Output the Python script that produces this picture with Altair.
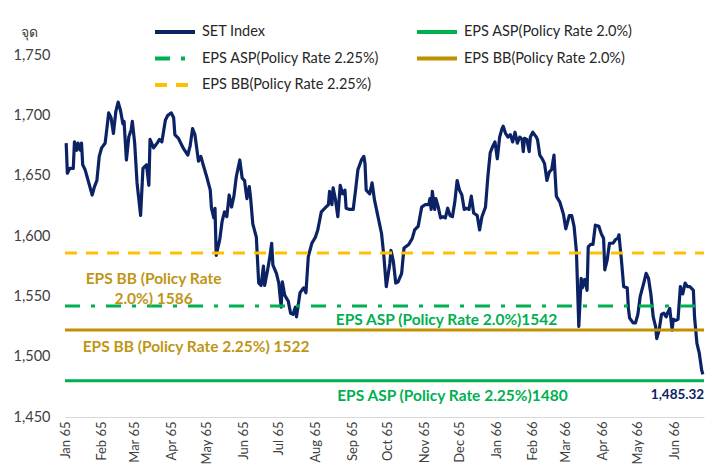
import altair as alt
import pandas as pd

FONT = "Lato"

# ---- data ----
# trading-day positions (days since 1 Jan 2022) and SET Index closes
days = [
    1, 2, 4, 7, 8, 10, 11, 13, 14, 15,
    17, 21, 23, 25, 27, 29, 31, 34, 37, 39,
    41, 43, 45, 47, 49, 50, 52, 54, 56, 57,
    59, 61, 64, 66, 69, 71, 72, 75, 78, 80,
    82, 85, 87, 90, 92, 93, 96, 100, 104, 106,
    108, 110, 113, 115, 117, 120, 123, 124, 126, 127,
    128, 131, 133, 135, 137, 139, 141, 143, 145, 148,
    150, 152, 154, 156, 157, 159, 162, 164, 166, 168,
    169, 171, 173, 175, 176, 179, 181, 183, 184, 186,
    189, 191, 193, 195, 196, 199, 202, 204, 206, 209,
    212, 214, 217, 220, 223, 224, 226, 227, 229, 231,
    233, 235, 237, 238, 241, 244, 246, 248, 251, 253,
    254, 255, 258, 260, 262, 265, 268, 270, 272, 275,
    276, 278, 280, 282, 285, 287, 291, 294, 296, 299,
    302, 305, 308, 309, 310, 311, 313, 314, 316, 318,
    320, 322, 324, 326, 328, 330, 332, 334, 336, 338,
    340, 342, 344, 346, 349, 351, 353, 356, 358, 360,
    362, 364, 366, 368, 370, 371, 373, 375, 377, 379,
    381, 383, 385, 387, 388, 389, 391, 393, 394, 396,
    399, 400, 402, 404, 406, 408, 410, 412, 414, 416,
    419, 422, 424, 427, 429, 431, 433, 435, 437, 438,
    440, 442, 443, 445, 447, 449, 452, 454, 456, 457,
    459, 461, 464, 466, 468, 469, 471, 473, 476, 477,
    478, 481, 483, 485, 487, 490, 492, 494, 496, 498,
    500, 501, 503, 505, 507, 509, 510, 512, 514, 515,
    517, 519, 521, 523, 525, 527, 529, 532, 533, 535,
    537, 539, 540,
]
set_values = [
    1677, 1652, 1656, 1656, 1678, 1671, 1677, 1671, 1677, 1659,
    1655, 1641, 1634, 1641, 1646, 1666, 1673, 1677, 1702, 1698,
    1685, 1703, 1711, 1704, 1693, 1695, 1663, 1682, 1688, 1695,
    1677, 1644, 1617, 1656, 1659, 1642, 1680, 1673, 1677, 1680,
    1678, 1696, 1700, 1702, 1698, 1684, 1681, 1673, 1667, 1675,
    1689, 1684, 1662, 1666, 1659, 1649, 1638, 1623, 1615, 1623,
    1584, 1597, 1612, 1620, 1616, 1634, 1624, 1633, 1649, 1663,
    1648, 1646, 1631, 1641, 1633, 1610, 1599, 1561, 1559, 1575,
    1559, 1569, 1580, 1594, 1576, 1569, 1561, 1541, 1562, 1551,
    1546, 1536, 1535, 1541, 1533, 1553, 1557, 1553, 1583, 1594,
    1599, 1605, 1620, 1623, 1626, 1637, 1626, 1640, 1630, 1616,
    1642, 1635, 1638, 1623, 1622, 1622, 1638, 1655, 1663, 1666,
    1660, 1638, 1635, 1644, 1630, 1616, 1602, 1583, 1558, 1577,
    1588, 1579, 1561, 1562, 1569, 1590, 1593, 1598, 1605, 1608,
    1624, 1626, 1626, 1631, 1622, 1637, 1622, 1631, 1624, 1615,
    1616, 1615, 1623, 1617, 1616, 1628, 1646, 1638, 1634, 1622,
    1623, 1622, 1633, 1619, 1617, 1605, 1616, 1624, 1649, 1669,
    1674, 1678, 1664, 1682, 1689, 1691, 1685, 1682, 1684, 1678,
    1686, 1677, 1682, 1680, 1670, 1681, 1680, 1670, 1682, 1686,
    1682, 1680, 1667, 1664, 1660, 1646, 1653, 1655, 1667, 1633,
    1628, 1618, 1606, 1617, 1617, 1608, 1587, 1525, 1565, 1557,
    1564, 1555, 1591, 1593, 1593, 1609, 1608, 1602, 1598, 1572,
    1580, 1594, 1594, 1597, 1598, 1601, 1581, 1558, 1557, 1540,
    1532, 1528, 1528, 1535, 1550, 1561, 1569, 1565, 1552, 1533,
    1525, 1515, 1522, 1535, 1536, 1533, 1536, 1540, 1522, 1531,
    1530, 1531, 1558, 1552, 1561, 1558, 1558, 1555, 1533, 1511,
    1503, 1489, 1485.32,
]
last_label = "1,485.32"

series_names = [
    "SET Index",
    "EPS ASP(Policy Rate 2.0%)",
    "EPS ASP(Policy Rate 2.25%)",
    "EPS BB(Policy Rate 2.0%)",
    "EPS BB(Policy Rate 2.25%)",
]
ref_series = series_names[1:]
ref_values = [1480, 1542, 1522, 1586]

annot_texts = [
    "EPS ASP (Policy Rate 2.25%)1480",
    "EPS ASP (Policy Rate 2.0%)1542",
    "EPS BB (Policy Rate 2.25%) 1522",
    "EPS BB (Policy Rate\n2.0%) 1586",
]
annot_days = [328, 323, 111, 75]

y_ticks = [1450, 1500, 1550, 1600, 1650, 1700, 1750]
month_ticks = [(2022, m) for m in range(1, 13)] + [(2023, m) for m in range(1, 7)]

# ---- styles ----
colors = ["#0B2265", "#00B050", "#00B050", "#BF9000", "#FFC000"]
dashes = [[1, 0], [1, 0], [15, 11, 4, 11], [1, 0], [12, 9]]
GOLD_TXT = "#C09515"
annot_colors = ["#00B050", "#00B050", GOLD_TXT, GOLD_TXT]
annot_dy = [15, 14, 17, 26]

start = pd.Timestamp("2022-01-01")
end_day = 541

set_df = pd.DataFrame({
    "date": start + pd.to_timedelta(days, unit="D"),
    "value": set_values,
    "series": "SET Index",
})
ref_df = pd.DataFrame({
    "date": [start] * len(ref_values),
    "end": [start + pd.Timedelta(days=end_day)] * len(ref_values),
    "value": ref_values,
    "series": ref_series,
})

legend = alt.Legend(
    title=None, orient="none", legendX=90, legendY=-32, columns=2,
    direction="horizontal",
    symbolType="M-3,0H3", symbolSize=178, symbolStrokeWidth=4,
    symbolOffset=11, labelOffset=18, labelFont=FONT, labelFontSize=14.5,
    labelColor="#262626", labelLimit=400, rowPadding=9.5, columnPadding=28,
    padding=0,
)

x_enc = alt.X(
    "date:T",
    scale=alt.Scale(domain=[alt.DateTime(year=2022, month=1, date=1),
                            alt.DateTime(year=2023, month=6, date=26)]),
    axis=alt.Axis(
        values=[alt.DateTime(year=y, month=m, date=1) for y, m in month_ticks],
        labelExpr="timeFormat(datum.value, '%b') + ' ' + ((year(datum.value) + 543) % 100)",
        labelAngle=270, labelFont=FONT, labelFontSize=13, labelColor="#404040",
        labelPadding=4, grid=False, ticks=False, domainColor="#D9D9D9",
        domainWidth=1, title=None, labelOverlap=False,
    ),
)
y_enc = alt.Y(
    "value:Q",
    scale=alt.Scale(domain=[1450, 1750], nice=False, zero=False),
    axis=alt.Axis(
        values=y_ticks, format=",.0f", grid=False, ticks=False, domain=False,
        labelFont=FONT, labelFontSize=14.5, labelColor="#404040", labelPadding=15,
        title="จุด", titleAngle=0, titleX=-36, titleY=-23, titleAlign="center",
        titleBaseline="middle", titleFont=FONT, titleFontSize=14,
        titleFontWeight="normal", titleColor="#404040",
    ),
)
color_enc = alt.Color("series:N", scale=alt.Scale(domain=series_names, range=colors), legend=legend)
dash_enc = alt.StrokeDash("series:N", scale=alt.Scale(domain=series_names, range=dashes), legend=legend)

line = alt.Chart(set_df).mark_line(strokeWidth=3.2, strokeJoin="round").encode(
    x=x_enc, y=y_enc, color=color_enc, strokeDash=dash_enc
)

rules = alt.Chart(ref_df).mark_rule(strokeWidth=3).encode(
    x=x_enc, x2="end:T", y=y_enc,
    color=color_enc, strokeDash=dash_enc,
)

layers = [line, rules]
for i, txt in enumerate(annot_texts):
    d = pd.DataFrame({
        "date": [start + pd.Timedelta(days=annot_days[i])],
        "value": [ref_values[i]],
        "label": [txt],
    })
    layers.append(
        alt.Chart(d).mark_text(
            font=FONT, fontSize=15.5, fontWeight="bold", color=annot_colors[i],
            dy=annot_dy[i], align="center", baseline="middle",
            lineBreak="\n", lineHeight=20,
        ).encode(x=x_enc, y=y_enc, text="label:N")
    )

end_df = pd.DataFrame({
    "date": [start + pd.Timedelta(days=days[-1])],
    "value": [set_values[-1]],
    "label": [last_label],
})
layers.append(
    alt.Chart(end_df).mark_text(
        font=FONT, fontSize=13.5, fontWeight="bold", color="#0B2265",
        align="left", baseline="middle", dx=-52, dy=21,
    ).encode(x=x_enc, y=y_enc, text="label:N")
)

chart = alt.layer(*layers).properties(
    width=639, height=362,
    autosize=alt.AutoSizeParams(type="none"),
    padding={"left": 57, "top": 47, "right": 4, "bottom": 47},
    background="white",
).configure_view(stroke=None)

chart.save("out.html", embed_options={"renderer": "svg", "actions": False})
